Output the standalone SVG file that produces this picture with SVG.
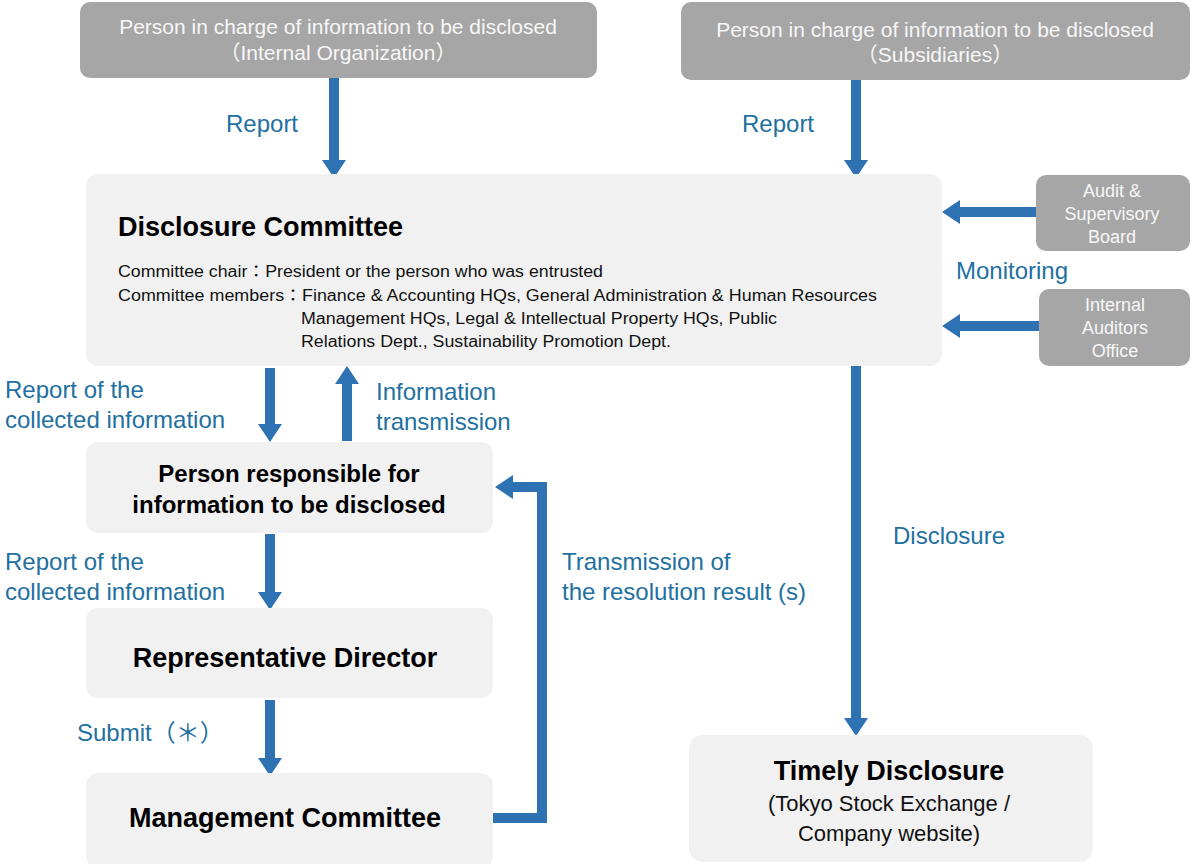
<svg xmlns="http://www.w3.org/2000/svg" width="1192" height="864" viewBox="0 0 1192 864">
<style>
.dark{fill:#a6a6a6}
.light{fill:#f1f1f1}
.wt{font-family:"Liberation Sans","Noto Sans CJK JP",sans-serif;fill:#f7f7f7;text-anchor:middle}
.bt{font-family:"Liberation Sans","Noto Sans CJK JP",sans-serif;fill:#000;font-weight:bold;text-anchor:middle}
.nt{font-family:"Liberation Sans","Noto Sans CJK JP",sans-serif;fill:#111}
.lbl{font-family:"Liberation Sans","Noto Sans CJK JP",sans-serif;fill:#22709f;font-size:24px}
.ar{stroke:#2e72b3;stroke-width:10;fill:none;marker-end:url(#ah)}
</style>
<defs>
<marker id="ah" markerUnits="userSpaceOnUse" viewBox="0 0 18 24" markerWidth="18" markerHeight="24" refX="0" refY="12" orient="auto">
<path d="M0,0 L18,12 L0,24 Z" fill="#2e72b3"/>
</marker>
</defs>
<rect width="1192" height="864" fill="#fff"/>

<g id="connectors">
<line class="ar" x1="334" y1="78" x2="334" y2="160"/>
<line class="ar" x1="856" y1="80" x2="856" y2="160"/>
<line class="ar" x1="1036" y1="212" x2="960" y2="212"/>
<line class="ar" x1="1039" y1="326" x2="960" y2="326"/>
<line class="ar" x1="270" y1="368" x2="270" y2="424"/>
<line class="ar" x1="347" y1="441" x2="347" y2="384"/>
<line class="ar" x1="270" y1="534" x2="270" y2="592"/>
<line class="ar" x1="270" y1="700" x2="270" y2="758"/>
<polyline class="ar" points="493,818 542,818 542,487 513,487"/>
<line class="ar" x1="856" y1="366" x2="856" y2="718"/>
</g>

<g id="labels">
<text class="lbl" x="226" y="132">Report</text>
<text class="lbl" x="742" y="132">Report</text>
<text class="lbl" x="956" y="279">Monitoring</text>
<text class="lbl" x="5" y="398">Report of the</text>
<text class="lbl" x="5" y="428">collected information</text>
<text class="lbl" x="376" y="400">Information</text>
<text class="lbl" x="376" y="430">transmission</text>
<text class="lbl" x="5" y="570">Report of the</text>
<text class="lbl" x="5" y="600">collected information</text>
<text class="lbl" x="562" y="570">Transmission of</text>
<text class="lbl" x="562" y="600">the resolution result (s)</text>
<text class="lbl" x="893" y="544">Disclosure</text>
<text class="lbl" x="77" y="741">Submit（＊）</text>
</g>

<g id="n-internal">
<rect class="dark" x="80" y="2" width="517" height="76" rx="10"/>
<text class="wt" x="338" y="34" font-size="21">Person in charge of information to be disclosed</text>
<text class="wt" x="338" y="60" font-size="21">（Internal Organization）</text>
</g>

<g id="n-subsidiaries">
<rect class="dark" x="681" y="2" width="509" height="78" rx="10"/>
<text class="wt" x="935" y="37" font-size="21">Person in charge of information to be disclosed</text>
<text class="wt" x="935" y="62" font-size="21">（Subsidiaries）</text>
</g>

<g id="n-committee">
<rect class="light" x="86" y="174" width="856" height="192" rx="12"/>
<text class="bt" x="118" y="236" font-size="27" style="text-anchor:start">Disclosure Committee</text>
<text class="nt" x="118" y="277" font-size="16" textLength="485" lengthAdjust="spacingAndGlyphs">Committee chair：President or the person who was entrusted</text>
<text class="nt" x="118" y="301" font-size="16" textLength="759" lengthAdjust="spacingAndGlyphs">Committee members：Finance &amp; Accounting HQs, General Administration &amp; Human Resources</text>
<text class="nt" x="301" y="324" font-size="16" textLength="476" lengthAdjust="spacingAndGlyphs">Management HQs, Legal &amp; Intellectual Property HQs, Public</text>
<text class="nt" x="301" y="347" font-size="16" textLength="370" lengthAdjust="spacingAndGlyphs">Relations Dept., Sustainability Promotion Dept.</text>
</g>

<g id="n-audit">
<rect class="dark" x="1036" y="175" width="154" height="76" rx="10"/>
<text class="wt" x="1112" y="197" font-size="18">Audit &amp;</text>
<text class="wt" x="1112" y="220" font-size="18">Supervisory</text>
<text class="wt" x="1112" y="243" font-size="18">Board</text>
</g>

<g id="n-internal-auditors">
<rect class="dark" x="1039" y="289" width="151" height="77" rx="10"/>
<text class="wt" x="1115" y="311" font-size="18">Internal</text>
<text class="wt" x="1115" y="334" font-size="18">Auditors</text>
<text class="wt" x="1115" y="357" font-size="18">Office</text>
</g>

<g id="n-responsible">
<rect class="light" x="86" y="442" width="407" height="91" rx="12"/>
<text class="bt" x="289" y="482" font-size="24">Person responsible for</text>
<text class="bt" x="289" y="513" font-size="24">information to be disclosed</text>
</g>

<g id="n-representative">
<rect class="light" x="86" y="608" width="407" height="90" rx="12"/>
<text class="bt" x="285" y="667" font-size="27">Representative Director</text>
</g>

<g id="n-management">
<rect class="light" x="86" y="773" width="407" height="95" rx="12"/>
<text class="bt" x="285" y="827" font-size="27">Management Committee</text>
</g>

<g id="n-timely">
<rect class="light" x="689" y="735" width="404" height="127" rx="14"/>
<text class="bt" x="889" y="780" font-size="27">Timely Disclosure</text>
<text class="nt" x="889" y="811" font-size="22" style="text-anchor:middle">(Tokyo Stock Exchange /</text>
<text class="nt" x="889" y="841" font-size="22" style="text-anchor:middle">Company website)</text>
</g>
</svg>
